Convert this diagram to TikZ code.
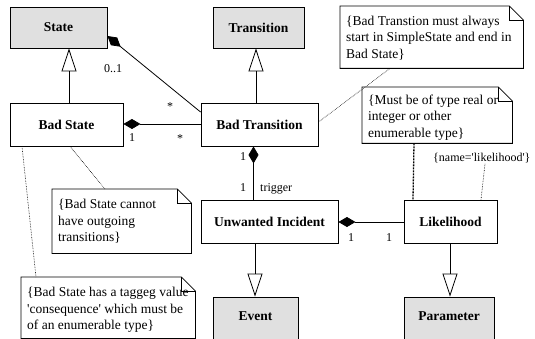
\documentclass[tikz,border=0pt]{standalone}
\usepackage{fontspec}
\setmainfont{Liberation Serif}
\usetikzlibrary{arrows.meta,calc}
\definecolor{boxgray}{RGB}{224,224,224}
\tikzset{
  cls/.style={draw=black, line width=0.9pt, inner sep=0pt, font=\fontsize{13.5}{15}\selectfont\bfseries},
  abstr/.style={cls, fill=boxgray},
  notebox/.style={draw=none, inner sep=0pt, anchor=north west},
  noteline/.style={draw=black, line width=0.8pt},
  notetext/.style={anchor=base west, inner sep=0pt, font=\fontsize{13.5}{16.5}\selectfont},
  mult/.style={anchor=base, inner sep=0pt, font=\fontsize{12}{14}\selectfont},
  gen/.style={-{Triangle[open,length=23pt,width=15pt]}, line width=0.8pt},
  comp/.style={{Diamond[length=17pt,width=10pt]}-, line width=0.8pt},
  anchorline/.style={densely dotted, line width=0.6pt},
  heavyanchor/.style={dash pattern=on 2pt off 1pt, line width=1.3pt},
}
\newcommand\umlnote[1]{%
  \draw[noteline] (#1.north west) -- ([xshift=-14pt]#1.north east)
    -- ([yshift=-14pt]#1.north east) -- (#1.south east) -- (#1.south west) -- cycle;
  \draw[noteline] ([xshift=-14pt]#1.north east) -- ([xshift=-14pt,yshift=-14pt]#1.north east)
    -- ([yshift=-14pt]#1.north east);}
\begin{document}
\begin{tikzpicture}[x=1pt,y=-1pt]
\useasboundingbox (0,0) rectangle (535,339);

% classes
\node[abstr, minimum width=97pt, minimum height=41pt] (state) at (58.5,27.5) {State};
\node[abstr, minimum width=91pt, minimum height=41pt] (transition) at (258.5,27.5) {Transition};
\node[cls, minimum width=113pt, minimum height=43pt] (badstate) at (66.5,124.5) {Bad State};
\node[cls, minimum width=117pt, minimum height=43pt] (badtrans) at (259.5,124.5) {Bad Transition};
\node[cls, minimum width=137pt, minimum height=43pt] (unwanted) at (269.5,221.5) {Unwanted Incident};
\node[cls, minimum width=93pt, minimum height=43pt] (likelihood) at (450.5,221.5) {Likelihood};
\node[abstr, minimum width=85pt, minimum height=44pt, text depth=5pt] (event) at (255.5,319) {Event};
\node[abstr, minimum width=90pt, minimum height=44pt, text depth=5pt] (parameter) at (449,319) {Parameter};

% notes
\node[notebox, minimum width=183pt, minimum height=62pt] (n1) at (340,6) {};
\umlnote{n1}
\node[notetext] (t1) at ([xshift=6pt,yshift=-19.5pt]n1.north west)
  {\parbox[t]{180pt}{\{Bad Transtion must always\\start in SimpleState and end in\\Bad State\}}};

\node[notebox, minimum width=150pt, minimum height=56pt] (n2) at (362,87) {};
\umlnote{n2}
\node[notetext] (t2) at ([xshift=6pt,yshift=-17.5pt]n2.north west)
  {\parbox[t]{150pt}{\{Must be of type real or\\integer or other\\enumerable type\}}};

\node[notebox, minimum width=139pt, minimum height=64pt] (n3) at (52,189) {};
\umlnote{n3}
\node[notetext] (t3) at ([xshift=6pt,yshift=-19.5pt]n3.north west)
  {\parbox[t]{140pt}{\{Bad State cannot\\have outgoing\\transitions\}}};

\node[notebox, minimum width=174pt, minimum height=61pt] (n4) at (21,277) {};
\umlnote{n4}
\node[notetext] (t4) at ([xshift=6pt,yshift=-19.5pt]n4.north west)
  {\parbox[t]{180pt}{\{Bad State has a taggeg value\\\textquotesingle consequence\textquotesingle\ which must be\\of an enumerable type\}}};

\node[anchor=base west, inner sep=0pt, font=\fontsize{12}{14}\selectfont] (tag) at (433,162)
  {\{name=\textquotesingle likelihood\textquotesingle\}};

% generalizations
\draw[gen] (badstate.north -| 69,0) -- (state.south -| 69,0);
\draw[gen] (badtrans.north -| 256,0) -- (transition.south -| 256,0);
\draw[gen] (unwanted.south -| 255,0) -- (event.north -| 255,0);
\draw[gen] (likelihood.south -| 450,0) -- (parameter.north -| 450,0);

% compositions
\draw[comp] (state.east |- 0,36) -- (badtrans.west |- 0,112);
\draw[comp] (badstate.east |- 0,124) -- (badtrans.west |- 0,124);
\draw[comp] (badtrans.south -| 253.5,0) -- (unwanted.north -| 253.5,0);
\draw[comp] (unwanted.east |- 0,222) -- (likelihood.west |- 0,222);

% multiplicities
\node[mult] (m1) at (113,73) {0..1};
\node[mult] (m2) at (170,111) {*};
\node[mult] (m3) at (132,142) {1};
\node[mult] (m4) at (180,143) {*};
\node[mult] (m5) at (243,161) {1};
\node[mult] (m6) at (243,191) {1};
\node[mult, anchor=base west] (m7) at (260,191) {trigger};
\node[mult] (m8) at (351,241) {1};
\node[mult] (m9) at (389,241) {1};

% note anchors
\draw[anchorline] (badtrans.east |- 0,122) -- (n1.south -| 390,0);
\draw[anchorline] (badstate.south -| 22,0) -- (n4.north -| 36,0);
\draw[anchorline] (badstate.south -| 70,0) -- (n3.north -| 105,0);
\draw[heavyanchor] (n2.south -| 414,0) -- (likelihood.north -| 413,0);
\draw[anchorline] (tag.south -| 485,0) -- (likelihood.north -| 481,0);
\end{tikzpicture}
\end{document}
